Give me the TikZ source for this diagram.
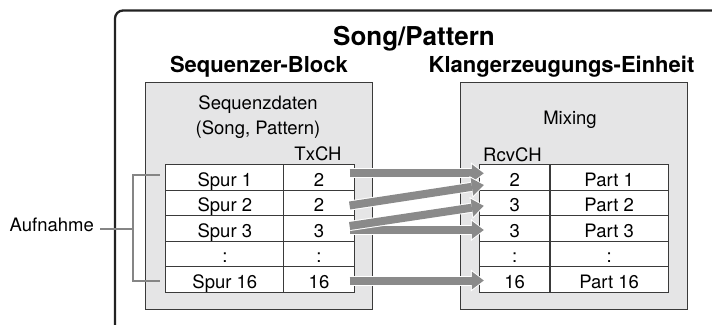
\documentclass[tikz,border=0pt]{standalone}
\usepackage{fontspec}
\setmainfont{TeX Gyre Heros}
\usetikzlibrary{arrows.meta}

\definecolor{panelfill}{HTML}{E5E5E6}
\definecolor{arrowgray}{HTML}{8A8A8A}
\definecolor{bracketgray}{HTML}{858585}
\definecolor{framecol}{HTML}{222222}
\definecolor{edgecol}{HTML}{3A3A3A}

% one gray flow arrow with a thin white rim
\newcommand\flowarrow[2]{%
  \draw[flowrim] #1 -- #2;
  \draw[flow] #1 -- #2;}

\begin{document}
\begin{tikzpicture}[x=1pt,y=-1pt,
  txt/.style={font=\fontsize{18.5}{22}\selectfont, inner sep=0pt},
  subhead/.style={font=\fontsize{22}{26}\selectfont\bfseries, inner sep=0pt},
  mainhead/.style={font=\fontsize{26}{30}\selectfont\bfseries, inner sep=0pt},
  panel/.style={draw=edgecol, line width=0.9pt, fill=panelfill,
    minimum width=226.3pt, minimum height=226.3pt, inner sep=0pt},
  cell/.style={draw=edgecol, line width=0.9pt, fill=white, inner sep=0pt,
    minimum height=25.6pt, text height=17.6pt, text depth=0pt,
    font=\fontsize{18.5}{22}\selectfont},
  widecell/.style={cell, minimum width=118.3pt},
  narrowcell/.style={cell, minimum width=70.3pt},
  flow/.style={line width=8pt, draw=arrowgray,
    -{Triangle[length=12pt,width=18pt,line width=0pt]}},
  flowrim/.style={line width=10pt, draw=white, shorten >=-1.2pt,
    -{Triangle[length=14pt,width=22pt,line width=0pt]}},
  bracket/.style={draw=bracketgray, line width=1.8pt},
  frame/.style={draw=framecol, line width=2.3pt, rounded corners=8pt}]

\useasboundingbox (0,0) rectangle (712,324);
\clip (0,0) rectangle (712,324);

% outer frame (runs past the right and bottom edges)
\draw[frame] (115,10.5) rectangle (780,400);

% the two blocks
\node[panel] (seqblk) at (258.85,195.85) {};
\node[panel] (mixblk) at (574,195.85) {};

% track table and part table
\foreach \y/\sa/\sb/\ra/\rb/\n in {
    177.3/Spur 1/2/2/Part 1/1,
    202.9/Spur 2/2/3/Part 2/2,
    228.5/Spur 3/3/3/Part 3/3,
    254.1/:/:/:/:/4,
    279.7/Spur 16/16/16/Part 16/5}{
  \node[widecell]   (la\n) at (224.85,\y) {\sa};
  \node[narrowcell] (lb\n) at (319,\y)    {\sb};
  \node[narrowcell] (ra\n) at (514.65,\y) {\ra};
  \node[widecell]   (rb\n) at (609.15,\y) {\rb};
}

% channel routing
\flowarrow{([xshift=-5pt,yshift=4pt]lb1.east)}{([xshift=4.7pt,yshift=4pt]ra1.west)}
\flowarrow{([xshift=-5pt,yshift=-2.6pt]lb2.east)}{([xshift=4.7pt,yshift=-7.7pt]ra1.west)}
\flowarrow{([xshift=-5pt,yshift=-1.5pt]lb3.east)}{([xshift=4.7pt,yshift=-1.5pt]ra3.west)}
\flowarrow{([xshift=-5pt,yshift=2.5pt]lb3.east)}{([xshift=4.7pt,yshift=-3pt]ra2.west)}
\flowarrow{([xshift=-5pt,yshift=-0.8pt]lb5.east)}{([xshift=4.7pt,yshift=-0.8pt]ra5.west)}

% headings and labels
\node[mainhead, anchor=base] (song) at (414,45) {Song/Pattern};
\node[subhead, anchor=base] (seqhead) at (259,72) {Sequenzer-Block};
\node[subhead, anchor=base] (klhead) at (561.5,72) {Klangerzeugungs-Einheit};
\node[txt, anchor=base] (seqdata) at (258,109.3) {Sequenzdaten};
\node[txt, anchor=base] (seqsub) at (258,134.3) {(Song, Pattern)};
\node[txt, anchor=base] (txch) at (318,160) {TxCH};
\node[txt, anchor=base west] (rcvch) at (483,161) {RcvCH};
\node[txt, anchor=base] (mix) at (570,124) {Mixing};
\node[txt, anchor=base east] (auf) at (94,231) {Aufnahme};

% recording bracket
\coordinate (brk) at (133,229);
\draw[bracket] ([xshift=-5.7pt,yshift=2.3pt]la1.west) -| (brk)
  |- ([xshift=-5.7pt,yshift=-1pt]la5.west);
\draw[bracket] ([xshift=6pt]auf.east |- brk) -- (brk);

\end{tikzpicture}
\end{document}
